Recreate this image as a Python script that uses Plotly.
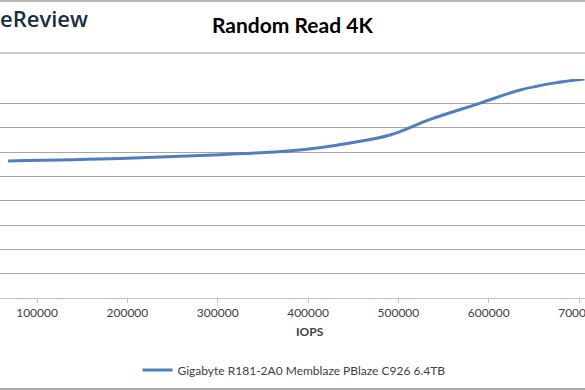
import plotly.graph_objects as go

# Data (y-axis labels are cropped out; latency in ms estimated)
iops = [67900, 191900, 302700, 391300, 446600, 490900, 535200, 590600, 634900, 673600, 706000]
latency = [0.563, 0.573, 0.589, 0.608, 0.637, 0.670, 0.734, 0.801, 0.855, 0.884, 0.900]
series_name = "Gigabyte R181-2A0 Memblaze PBlaze C926 6.4TB"
x_ticks = [100000, 200000, 300000, 400000, 500000, 600000, 700000]

W, H = 585, 390
PT, PB = 79, 298  # plot top/bottom in px
ph = PB - PT

def py(p):
    return (PB - p) / ph

def px(p):
    return p / W

fig = go.Figure()
fig.add_trace(go.Scatter(
    x=iops, y=latency, mode="lines", name=series_name,
    line=dict(color="#4f7fc0", width=3, shape="spline", smoothing=1.0),
))

fig.update_layout(
    width=W, height=H,
    margin=dict(l=0, r=0, t=PT, b=H - PB, pad=0, autoexpand=False),
    paper_bgcolor="white", plot_bgcolor="white",
    font=dict(family="Lato, Open Sans, sans-serif", color="#404040", size=12),
    showlegend=True,
    legend=dict(orientation="h", x=px(294), xanchor="center", y=py(370), yanchor="middle",
                font=dict(size=12, color="#404040"), bgcolor="rgba(0,0,0,0)"),
    xaxis=dict(range=[59000, 706600], tickvals=x_ticks, ticktext=[str(v) for v in x_ticks],
               automargin=False, ticklabeloverflow="allow",
               showgrid=False, zeroline=False, showline=True, linecolor="#bfbfbf", linewidth=1,
               ticks="outside", ticklen=4, tickcolor="#bfbfbf", tickfont=dict(size=12, color="#404040")),
    yaxis=dict(range=[0, 0.9], dtick=0.1, showticklabels=False, showgrid=True, automargin=False,
               gridcolor="#a6a6a6", gridwidth=1, zeroline=False, showline=False),
)

fig.add_annotation(text="<b>Random Read 4K</b>", x=px(292), y=py(25), xref="paper", yref="paper",
                   showarrow=False, font=dict(size=21, color="#000000"), xanchor="center", yanchor="middle")
fig.add_annotation(text="eReview", x=px(-2), y=py(18), xref="paper", yref="paper",
                   showarrow=False, font=dict(size=22, color="#1c2e3d", family="Open Sans", weight=600),
                   xanchor="left", yanchor="middle")
fig.add_annotation(text="<b>IOPS</b>", x=px(310), y=py(331), xref="paper", yref="paper",
                   showarrow=False, font=dict(size=12, color="#404040"), xanchor="center", yanchor="middle")

for yy, col in [(1, "#a0a0a0"), (53, "#bcbcbc"), (389, "#909090")]:
    fig.add_shape(type="line", xref="paper", yref="paper", x0=0, x1=1, y0=py(yy), y1=py(yy),
                  line=dict(color=col, width=1.5))

fig.write_html("out.html", config={"displayModeBar": False},
               post_script="document.body.style.margin='0';document.body.style.padding='0';")
